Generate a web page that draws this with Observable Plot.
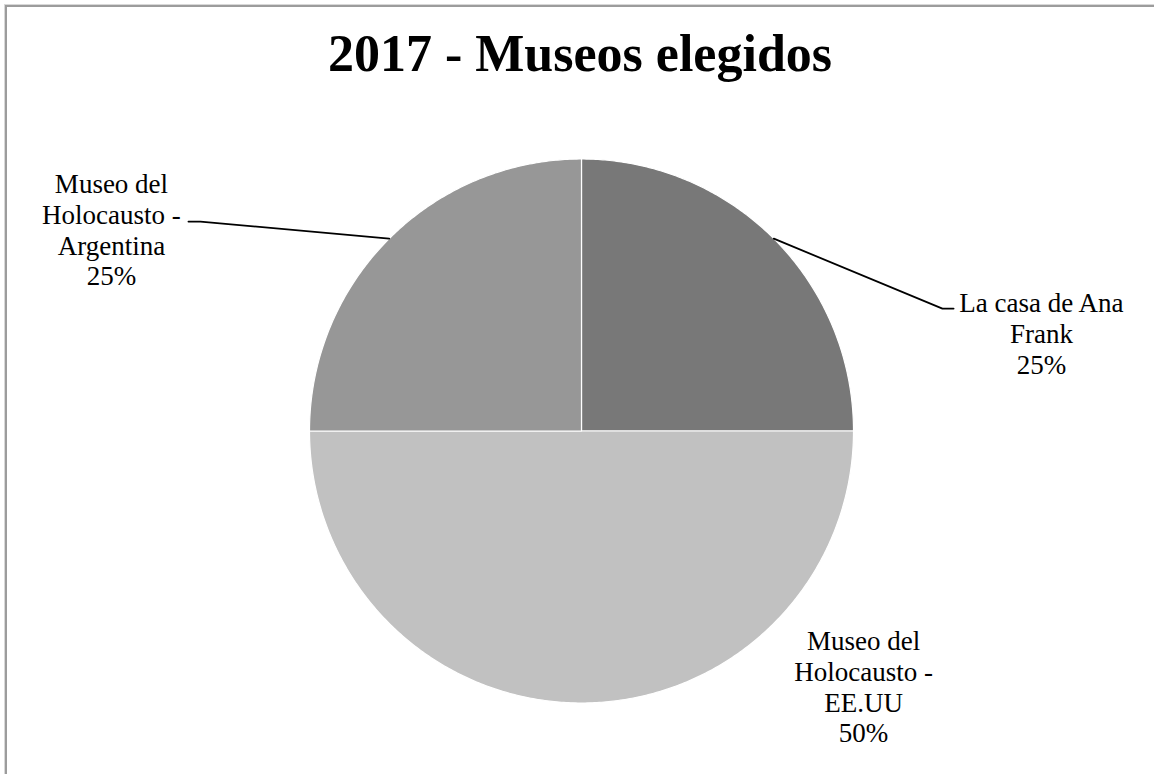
<!DOCTYPE html>
<html>
<head>
<meta charset="utf-8">
<script src="https://cdn.jsdelivr.net/npm/d3@7"></script>
<script src="https://cdn.jsdelivr.net/npm/@observablehq/plot@0.6"></script>
<style>
  html, body { margin: 0; padding: 0; background: #fff; }
  body { width: 1154px; height: 774px; position: relative; overflow: hidden; }
  #frame { position: absolute; left: 5px; top: 5px; width: 1300px; height: 900px;
           border-left: 2px solid #9c9c9c; border-top: 2px solid #9c9c9c;
           box-shadow: -1px -1px 0 #d8d8d8; pointer-events: none; }
  #title { position: absolute; left: 0; top: 28px; width: 1160px; text-align: center;
           font-family: "Liberation Serif", serif; font-weight: bold; font-size: 52px;
           line-height: 52px; color: #000; }
  #chart { position: absolute; left: 0; top: 100px; }
</style>
</head>
<body>
<div id="title"></div>
<div id="chart"></div>
<div id="frame"></div>
<script>
// ---- data ----
const titleText = "2017 - Museos elegidos";
const categories = ["La casa de Ana Frank", "Museo del Holocausto - EE.UU", "Museo del Holocausto - Argentina"];
const labelLines = ["La casa de Ana\nFrank", "Museo del\nHolocausto -\nEE.UU", "Museo del\nHolocausto -\nArgentina"];
const values = [25, 50, 25];
const colors = ["#787878", "#c1c1c1", "#979797"];

// ---- layout (pie radius units; pie centre = 0,0) ----
const labelPos = [[1.691, 0.211], [1.037, -1.145], [-1.728, 0.535]];
const leaderElbow = [[1.327, 0.450], null, [-1.401, 0.770]];
const leaderEnd = [[1.368, 0.450], null, [-1.445, 0.770]];

document.getElementById("title").textContent = titleText;

const total = d3.sum(values);
const arcs = d3.pie().sort(null).startAngle(0)(values);

// slice outlines
const slicePts = [];
arcs.forEach((a, i) => {
  const name = categories[i];
  slicePts.push({name, x: 0, y: 0});
  const n = Math.max(2, Math.ceil((a.endAngle - a.startAngle) / (Math.PI / 360)));
  for (let k = 0; k <= n; k++) {
    const t = a.startAngle + (a.endAngle - a.startAngle) * k / n;
    slicePts.push({name, x: Math.sin(t), y: Math.cos(t)});
  }
  slicePts.push({name, x: 0, y: 0});
});

// leaders
const leaderPts = [];
arcs.forEach((a, i) => {
  if (!leaderElbow[i]) return;
  const m = (a.startAngle + a.endAngle) / 2;
  leaderPts.push({name: categories[i], x: Math.sin(m), y: Math.cos(m)});
  leaderPts.push({name: categories[i], x: leaderElbow[i][0], y: leaderElbow[i][1]});
  leaderPts.push({name: categories[i], x: leaderEnd[i][0], y: leaderEnd[i][1]});
});

const labels = arcs.map((a, i) => ({
  text: labelLines[i] + "\n" + Math.round(values[i] / total * 100) + "%",
  x: labelPos[i][0], y: labelPos[i][1]
}));

const cx = 581, cy = 330.5, R = 272;
const chart = Plot.plot({
  width: 1154,
  height: 674,
  margin: 0,
  x: {domain: [-1, 1], range: [cx - R, cx + R], axis: null},
  y: {domain: [-1, 1], range: [cy + R, cy - R], axis: null},
  color: {domain: categories, range: colors},
  style: {background: "transparent", overflow: "visible"},
  marks: [
    Plot.line(slicePts, {x: "x", y: "y", z: "name", fill: "name", stroke: "#ffffff", strokeWidth: 1.2, curve: "linear"}),
    Plot.line(leaderPts, {x: "x", y: "y", z: "name", stroke: "#000", strokeWidth: 1.8}),
    Plot.text(labels, {x: "x", y: "y", text: "text", textAnchor: "middle", lineAnchor: "bottom",
      lineHeight: 1.145, fontSize: 27, fontFamily: "Liberation Serif", fill: "#000"})
  ]
});
document.getElementById("chart").appendChild(chart);
</script>
</body>
</html>
